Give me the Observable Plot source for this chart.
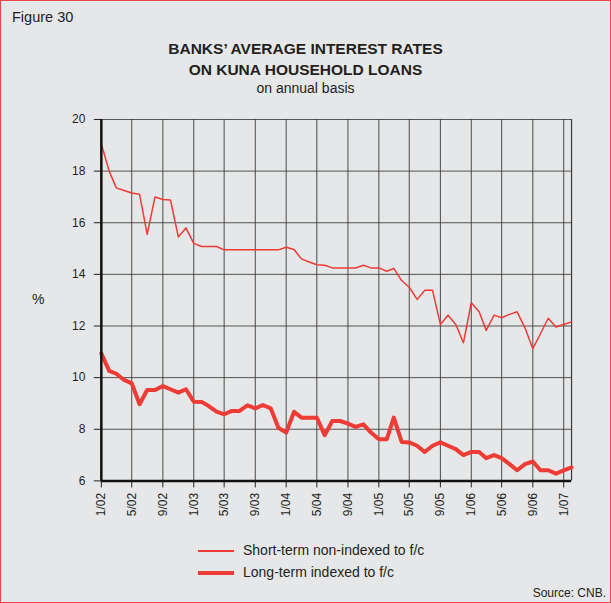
<!DOCTYPE html>
<html>
<head>
<meta charset="utf-8">
<script src="https://cdn.jsdelivr.net/npm/d3@7"></script>
<script src="https://cdn.jsdelivr.net/npm/@observablehq/plot@0.6"></script>
<style>
  html, body { margin: 0; padding: 0; }
  body { width: 611px; height: 603px; background: #e6e7e8; font-family: "Liberation Sans", Arial, sans-serif; color: #231f20; }
  #page { position: relative; width: 609px; height: 601px; border: 1px solid #e8474b; background: #e6e7e8; overflow: hidden; }
  .t { position: absolute; white-space: nowrap; }
  #chart { position: absolute; left: -1px; top: 109px; }
  .leg { position: absolute; left: 197px; width: 36px; background: #ee3b35; }
</style>
</head>
<body>
<div id="page">
  <div class="t" style="left:11px; top:8px; font-size:14.5px;">Figure 30</div>
  <div class="t" style="left:0; width:609px; text-align:center; top:37px; font-size:15.5px; font-weight:bold; line-height:21px;">BANKS’ AVERAGE INTEREST RATES<br>ON KUNA HOUSEHOLD LOANS</div>
  <div class="t" style="left:0; width:609px; text-align:center; top:79px; font-size:14px;">on annual basis</div>
  <div class="t" style="left:31px; top:290px; font-size:14px;">%</div>
  <div id="chart"></div>
  <div class="leg" style="top:549px; height:1.5px;"></div>
  <div class="t" style="left:242px; top:541px; font-size:14px;">Short-term non-indexed to f/c</div>
  <div class="leg" style="top:570px; height:4px;"></div>
  <div class="t" style="left:242px; top:563px; font-size:14px;">Long-term indexed to f/c</div>
  <div class="t" style="right:4px; top:585px; font-size:12px;">Source: CNB.</div>
</div>
<script>
// First month of the series: January 2002, monthly to February 2007
const startYear = 2002;
const startMonth = 0;
const shortTerm = [19.05, 18.0, 17.35, 17.25, 17.15, 17.1, 15.55, 17.0, 16.9, 16.88, 15.45, 15.8,
  15.2, 15.08, 15.08, 15.08, 14.95, 14.95, 14.95, 14.95, 14.95, 14.95, 14.95, 14.95,
  15.05, 14.96, 14.6, 14.48, 14.37, 14.35, 14.25, 14.25, 14.25, 14.25, 14.35, 14.25,
  14.25, 14.12, 14.23, 13.76, 13.5, 13.03, 13.38, 13.38, 12.06, 12.42, 12.06, 11.35,
  12.9, 12.55, 11.83, 12.42, 12.32, 12.45, 12.55, 11.93, 11.12, 11.7, 12.3, 11.96,
  12.06, 12.16];
const longTerm = [10.94, 10.26, 10.15, 9.91, 9.78, 8.97, 9.52, 9.52, 9.67, 9.55, 9.42, 9.55,
  9.07, 9.06, 8.9, 8.68, 8.58, 8.71, 8.71, 8.93, 8.81, 8.94, 8.81, 8.06,
  7.87, 8.68, 8.45, 8.45, 8.45, 7.77, 8.32, 8.32, 8.22, 8.09, 8.19, 7.87,
  7.61, 7.61, 8.45, 7.51, 7.49, 7.36, 7.12, 7.36, 7.49, 7.36, 7.23, 7.0,
  7.12, 7.12, 6.88, 7.0, 6.88, 6.65, 6.41, 6.65, 6.75, 6.41, 6.41, 6.28,
  6.41, 6.52];
const xTickLabels = ["1/02", "5/02", "9/02", "1/03", "5/03", "9/03", "1/04", "5/04", "9/04",
  "1/05", "5/05", "9/05", "1/06", "5/06", "9/06", "1/07"];
const yTicks = [6, 8, 10, 12, 14, 16, 18, 20];

const dateOf = i => new Date(Date.UTC(startYear, startMonth + i, 1));
const parseLabel = s => { const [m, y] = s.split("/").map(Number); return new Date(Date.UTC(2000 + y, m - 1, 1)); };
const xTicks = xTickLabels.map(parseLabel);
const fmt = d => `${d.getUTCMonth() + 1}/${String(d.getUTCFullYear() % 100).padStart(2, "0")}`;

const sData = shortTerm.map((v, i) => ({date: dateOf(i), v}));
const lData = longTerm.map((v, i) => ({date: dateOf(i), v}));
const xDomain = [dateOf(0), dateOf(shortTerm.length - 1)];

const red = "#ee3b35";
const grid = "#3a3a3a";

const chart = Plot.plot({
  width: 611,
  height: 421,
  marginLeft: 101,
  marginRight: 39,
  marginTop: 9,
  marginBottom: 50,
  style: {background: "transparent", fontFamily: "Liberation Sans, Arial, sans-serif", fontSize: "12px", color: "#231f20"},
  x: {type: "utc", domain: xDomain, ticks: xTicks, tickFormat: fmt},
  y: {domain: [6, 20], ticks: yTicks},
  marks: [
    Plot.ruleY(yTicks, {stroke: grid, strokeWidth: 1, strokeOpacity: 0.85}),
    Plot.ruleX(xTicks, {stroke: grid, strokeWidth: 1, strokeOpacity: 0.9}),
    Plot.ruleX([xDomain[1]], {stroke: grid, strokeWidth: 1.2}),
    Plot.axisY({ticks: yTicks, tickSize: 7, tickPadding: 9, label: null, stroke: "#231f20", fontSize: 12}),
    Plot.axisX({ticks: xTicks, tickFormat: fmt, tickSize: 7, tickPadding: 5, tickRotate: -90, label: null, fontSize: 12}),
    Plot.line(sData, {x: "date", y: "v", stroke: red, strokeWidth: 1.5}),
    Plot.line(lData, {x: "date", y: "v", stroke: red, strokeWidth: 4, strokeLinejoin: "round"}),
    Plot.ruleX([xDomain[0]], {stroke: "#111", strokeWidth: 2.5}),
    Plot.ruleY([6], {stroke: "#111", strokeWidth: 2.5})
  ]
});
document.getElementById("chart").appendChild(chart);
</script>
</body>
</html>
